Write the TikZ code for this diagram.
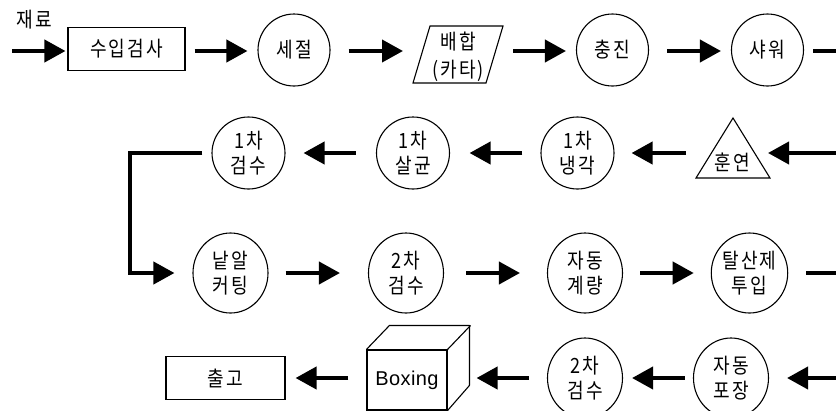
\documentclass[tikz,border=0pt]{standalone}
\usepackage{fontspec}
\setmainfont{Liberation Sans}
\newfontfamily\kr{Noto Sans CJK KR}[FakeStretch=0.86, LetterSpace=10]
\newfontfamily\lat{Liberation Sans}[LetterSpace=2]
\usetikzlibrary{arrows.meta,shapes.geometric,calc}
\begin{document}
\begin{tikzpicture}[x=1pt,y=-1pt,
  lbl/.style={font=\kr\fontsize{21}{25}\selectfont, align=center, inner sep=0pt},
  shp/.style={draw, line width=1.1pt},
  rectbox/.style={shp, rectangle, lbl, minimum width=117pt, minimum height=43pt},
  circa/.style={shp, circle, lbl, minimum size=72pt},
  ellb/.style={shp, ellipse, lbl, minimum width=73pt, minimum height=72pt},
  ellc/.style={shp, ellipse, lbl, minimum width=75pt, minimum height=80pt},
  arr/.style={line width=4pt, -{Triangle[length=21pt,width=22pt]}},
  fline/.style={line width=4pt}]
\useasboundingbox (0,0) rectangle (836,410);
% ---- row 1 ----
\node[lbl] (jr) at (34,20) {재료};
\coordinate (start) at (12,51);
\node[rectbox] (b1) at (126.5,49) {수입검사};
\node[circa] (c1) at (294,50) {세절};
\node[lbl, font=\kr\fontsize{21}{28}\selectfont] (p) at (458,57) {배합\\(카타)};
\draw[shp] (430,26) -- (503,26) -- (486,83) -- (413,83) -- cycle;
\coordinate (pw) at (422,51);
\coordinate (pe) at (495,51);
\node[circa] (c2) at (612.5,50) {충진};
\node[circa] (c3) at (767.5,50) {샤워};
\coordinate (r1e) at (836,51);
\draw[arr] (start) -- ($(b1.west |- start)+(-2,0)$);
\draw[arr] ($(b1.east |- start)+(9,0)$) -- ($(c1.west |- start)+(-10,0)$);
\draw[arr] ($(c1.east |- start)+(18,0)$) -- ($(pw)+(-19,0)$);
\draw[arr] ($(pe)+(18,0)$) -- ($(c2.west |- start)+(-10,0)$);
\draw[arr] ($(c2.east |- start)+(18,0)$) -- ($(c3.west |- start)+(-10,0)$);
\draw[fline] ($(c3.east |- start)+(9,0)$) -- (r1e);
% ---- row 2 ----
\coordinate (r2s) at (836,153);
\draw[shp] (733,118) -- (770,178) -- (696,178) -- cycle;
\node[lbl] (hy) at (732.5,162) {훈연};
\coordinate (tr) at (768,153);
\coordinate (tl) at (686,153);
\node[ellb] (n23) at (577.5,153) {1차\\냉각};
\node[ellb] (n22) at (413,153) {1차\\살균};
\node[ellb] (n21) at (248.5,153) {1차\\검수};
\draw[arr] (r2s) -- (tr);
\draw[arr] (tl) -- ([xshift=17pt]n23.east);
\draw[arr] ([xshift=-18pt]n23.west) -- ([xshift=19.5pt]n22.east);
\draw[arr] ([xshift=-20pt]n22.west) -- ([xshift=18pt]n21.east);
% ---- row 3 ----
\node[ellc] (n31) at (230.5,273) {낱알\\커팅};
\node[ellc] (n32) at (406,273) {2차\\검수};
\node[ellc] (n33) at (585,273) {자동\\계량};
\node[ellc] (n34) at (749.5,273) {탈산제\\투입};
\coordinate (corner) at (130,153);
\draw[arr, line join=miter] ([xshift=-9pt]n21.west) -- (corner) |- ([xshift=-18pt]n31.west);
\draw[arr] ([xshift=17pt]n31.east) -- ([xshift=-28pt]n32.west);
\draw[arr] ([xshift=22pt]n32.east) -- ([xshift=-27pt]n33.west);
\draw[arr] ([xshift=17pt]n33.east) -- ([xshift=-17pt]n34.west);
\coordinate (r3e) at (836,273);
\draw[fline] ([xshift=18pt]n34.east) -- (r3e);
% ---- row 4 ----
\coordinate (r4s) at (836,378);
\node[ellc] (n42) at (731,378) {자동\\포장};
\node[ellc] (n41) at (585,378) {2차\\검수};
\node[shp, rectangle, minimum width=80pt, minimum height=60pt, inner sep=0pt, font=\lat\fontsize{20}{22}\selectfont] (bx) at (407,380) {Boxing};
\draw[shp, line join=round] (bx.north west) -- ++(23,-24) -- ++(80,0) -- ++(0,60) -- (bx.south east);
\draw[shp] (bx.north east) -- ++(23,-24);
\node[rectbox, minimum width=119pt] (out) at (225.5,378) {출고};
\draw[arr] (r4s) -- ([xshift=18pt]n42.east);
\draw[arr] ([xshift=-8pt]n42.west) -- ([xshift=9pt]n41.east);
\draw[arr] ([xshift=-18pt]n41.west) -- ([xshift=29pt,yshift=2pt]bx.east);
\draw[arr] ([xshift=-18pt,yshift=2pt]bx.west) -- ([xshift=10pt]out.east);
\end{tikzpicture}
\end{document}
